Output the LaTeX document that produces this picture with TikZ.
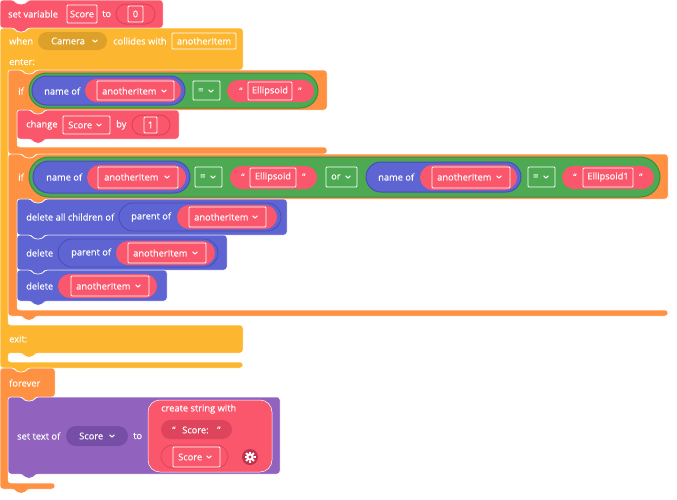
\documentclass[tikz,border=0pt]{standalone}
\usepackage{fontspec}
\setmainfont{Open Sans}[FakeBold=0.4]
\definecolor{pinkB}{RGB}{250,87,108}
\definecolor{pinkD}{RGB}{222,68,92}
\definecolor{gearD}{RGB}{190,50,75}
\definecolor{yellowB}{RGB}{252,182,48}
\definecolor{yellowD}{RGB}{221,160,40}
\definecolor{orangeB}{RGB}{254,145,66}
\definecolor{greenB}{RGB}{78,170,82}
\definecolor{greenD}{RGB}{60,140,66}
\definecolor{blueB}{RGB}{94,100,210}
\definecolor{blueD}{RGB}{72,78,180}
\definecolor{purpleB}{RGB}{146,99,190}
\definecolor{purpleD}{RGB}{118,78,165}
\newcommand{\nR}{-- ++(3,4) -- ++(8,0) -- ++(3,-4)} % notch, going right
\newcommand{\tL}{-- ++(-3,4) -- ++(-8,0) -- ++(-3,-4)} % tab, going left
\newcommand{\stmt}[5]{\filldraw[blk,fill=#5] (#1,#2) -- (#1+14,#2) \nR -- (#3,#2) -- (#3,#4) -- (#1+28,#4) \tL -- (#1,#4) -- cycle;}
\newcommand{\pill}[6][]{\pgfmathsetmacro{\pillr}{(#6-#4)/2}%
 \filldraw[fill=#2,draw=none,rounded corners=\pillr pt,#1] (#3,#4) rectangle (#5,#6);}
\newcommand{\chev}[2]{\draw[white,line width=1pt,line cap=round,line join=round] (#1-2.2,#2-1.1) -- (#1,#2+1.1) -- (#1+2.2,#2-1.1);}
\begin{document}
\begin{tikzpicture}[x=1pt,y=-1pt,
 blk/.style={draw=white,line width=.5pt,rounded corners=3pt},
 txt/.style={anchor=west,inner sep=0pt,text=white,font=\fontsize{9.3}{11}\selectfont},
 ctxt/.style={txt,anchor=center},
 field/.style={draw=white,line width=.8pt,rounded corners=1pt}]
 \useasboundingbox (0,0) rectangle (677,499);
 % set variable
 \stmt{0}{0}{163}{28}{pinkB}
 \node[txt] (setvar) at (8,14) {set variable};
 \draw[field] (67,5) rectangle (97,23);
 \node[ctxt] (setvarname) at (82,14) {Score};
 \node[txt] (setvarto) at (102,14) {to};
 \pill[draw=pinkD,line width=1pt]{pinkB}{116}{4}{155}{24}
 \draw[field] (128,6) rectangle (143,22);
 \node[ctxt] (setvarval) at (135.5,14) {0};
 % when ... collides with
 \filldraw[blk,fill=yellowB] (0,28) -- (14,28) \nR -- (243,28) -- (243,70) -- (36,70) \tL -- (8,70)
  -- (8,325) -- (243,325) -- (243,353) -- (36,353) \tL -- (8,353) -- (8,362) -- (243,362) -- (243,368)
  -- (28,368) \tL -- (0,368) -- cycle;
 \node[txt] (when) at (9,41) {when};
 \pill{yellowD}{38}{32}{107}{50}
 \node[txt] (camera) at (51,41) {Camera};
 \chev{95}{41}
 \node[txt] (collides) at (113,41) {collides with};
 \draw[field] (172,33) rectangle (236,49);
 \node[ctxt] (other) at (204,41) {anotherItem};
 \node[txt] (enter) at (9,62) {enter:};
 \node[txt] (exit) at (9,339) {exit:};
 % if 1
 \filldraw[blk,fill=orangeB] (8,70) -- (22,70) \nR -- (327,70) -- (327,110) -- (45,110) \tL -- (17,110)
  -- (17,147) -- (327,147) -- (327,154) -- (36,154) \tL -- (8,154) -- cycle;
 \node[txt] (if1) at (18,91) {if};
 \pill[draw=greenD,line width=1pt]{greenB}{29}{73}{318}{108}
 \pill[draw=blueD,line width=1pt]{blueB}{32}{76}{185}{105}
 \node[txt] (nameof1) at (44,91) {name of};
 \pill{pinkB}{85}{79}{181}{102}
 \draw[field] (97,81) rectangle (174,100);
 \node[txt] (item1) at (102,91) {anotherItem};
 \chev{164}{91}
 \draw[field,fill=greenB] (193,81) rectangle (220,100);
 \node[txt] (eq1) at (198,91) {=};
 \chev{211}{91}
 \pill{pinkB}{227}{80}{314}{102}
 \node[txt] (q1a) at (239,91) {“};
 \draw[field] (248,82) rectangle (292,100);
 \node[ctxt] (str1) at (270,91) {Ellipsoid};
 \node[txt] (q1b) at (298,91) {”};
 % change
 \stmt{17}{110}{179}{139}{pinkB}
 \node[txt] (change) at (26,125) {change};
 \draw[field] (63,116) rectangle (110,134);
 \node[txt] (chname) at (68,125) {Score};
 \chev{99}{125}
 \node[txt] (by) at (116,125) {by};
 \pill[draw=pinkD,line width=1pt]{pinkB}{132}{115}{170}{135}
 \draw[field] (144,117) rectangle (157,133);
 \node[ctxt] (byval) at (150.5,125) {1};
 % if 2
 \filldraw[blk,fill=orangeB] (8,154) -- (22,154) \nR -- (668,154) -- (668,199) -- (45,199) \tL -- (17,199)
  -- (17,310) -- (668,310) -- (668,316) -- (36,316) \tL -- (8,316) -- cycle;
 \node[txt] (if2) at (18,177) {if};
 \pill[draw=greenD,line width=1pt]{greenB}{29}{157}{660}{197}
 \pill[draw=blueD,line width=1pt]{blueB}{33}{161}{190}{193}
 \node[txt] (nameof2) at (46,177) {name of};
 \pill{pinkB}{87}{165}{186}{190}
 \draw[field] (98,167) rectangle (178,188);
 \node[txt] (item2) at (104,177) {anotherItem};
 \chev{167}{177}
 \draw[field,fill=greenB] (195,167) rectangle (222,187);
 \node[txt] (eq2) at (200,177) {=};
 \chev{213}{177}
 \pill{pinkB}{230}{166}{317}{189}
 \node[txt] (q2a) at (241,177) {“};
 \draw[field] (250,168) rectangle (296,187);
 \node[ctxt] (str2) at (273,177) {Ellipsoid};
 \node[txt] (q2b) at (302,177) {”};
 \draw[field,fill=greenB] (326,167) rectangle (357,187);
 \node[txt] (or) at (331,177) {or};
 \chev{348}{177}
 \pill[draw=blueD,line width=1pt]{blueB}{366}{162}{521}{192}
 \node[txt] (nameof3) at (378,177) {name of};
 \pill{pinkB}{420}{165}{517}{190}
 \draw[field] (432,167) rectangle (510,188);
 \node[txt] (item3) at (437,177) {anotherItem};
 \chev{499}{177}
 \draw[field,fill=greenB] (528,167) rectangle (555,187);
 \node[txt] (eq3) at (533,177) {=};
 \chev{546}{177}
 \pill{pinkB}{562}{166}{654}{189}
 \node[txt] (q3a) at (573,177) {“};
 \draw[field] (583,168) rectangle (633,187);
 \node[ctxt] (str3) at (608,177) {Ellipsoid1};
 \node[txt] (q3b) at (639,177) {”};
 % delete blocks
 \stmt{17}{199}{287}{235}{blueB}
 \node[txt] (delall) at (26,217) {delete all children of};
 \pill[draw=blueD,line width=.8pt]{blueB}{119}{203}{281}{231}
 \node[txt] (parent1) at (131,217) {parent of};
 \pill{pinkB}{177}{205}{277}{229}
 \draw[field] (189,207) rectangle (266,227);
 \node[txt] (item4) at (194,217) {anotherItem};
 \chev{255}{217}
 \stmt{17}{235}{227}{270}{blueB}
 \node[txt] (del1) at (26,253) {delete};
 \pill[draw=blueD,line width=.8pt]{blueB}{58}{239}{218}{267}
 \node[txt] (parent2) at (71,253) {parent of};
 \pill{pinkB}{116}{241}{215}{265}
 \draw[field] (128,243) rectangle (206,263);
 \node[txt] (item5) at (133,253) {anotherItem};
 \chev{195}{253}
 \stmt{17}{270}{167}{301}{blueB}
 \node[txt] (del2) at (26,286) {delete};
 \pill{pinkB}{58}{274}{157}{298}
 \draw[field] (71,276) rectangle (149,296);
 \node[txt] (item6) at (76,286) {anotherItem};
 \chev{138}{286}
 % forever
 \filldraw[blk,fill=orangeB] (0,368) -- (14,368) \nR -- (55,368) -- (55,397) -- (36,397) \tL -- (8,397)
  -- (8,483) -- (55,483) -- (55,489) -- (28,489) \tL -- (0,489) -- cycle;
 \node[txt] (forever) at (9,383) {forever};
 % set text of
 \stmt{8}{397}{280}{474}{purpleB}
 \node[txt] (settext) at (17,436) {set text of};
 \pill{purpleD}{66}{426}{128}{446}
 \node[txt] (txtname) at (79,436) {Score};
 \chev{112}{436}
 \node[txt] (setto) at (133,436) {to};
 \filldraw[fill=pinkB,draw=white,line width=.5pt,rounded corners=12pt] (148,400) rectangle (272,472);
 \node[txt] (create) at (161,409) {create string with};
 \pill{pinkD}{161}{420}{232}{439}
 \node[txt] (q4a) at (172,430) {“};
 \node[txt] (scorelbl) at (182,430) {Score:};
 \node[txt] (q4b) at (217,430) {”};
 \pill[draw=pinkD,line width=.8pt]{pinkB}{161}{445}{228}{468}
 \draw[field] (173,447) rectangle (220,467);
 \node[txt] (strname) at (178,457) {Score};
 \chev{209}{457}
 \fill[gearD] (250,457) circle (8);
 \foreach \a in {0,45,...,315}
  \fill[white,rotate around={\a:(250,457)}] (249,451.5) rectangle (251,453.5);
 \fill[white] (250,457) circle (3.8);
 \fill[gearD] (250,457) circle (1.6);
\end{tikzpicture}
\end{document}
